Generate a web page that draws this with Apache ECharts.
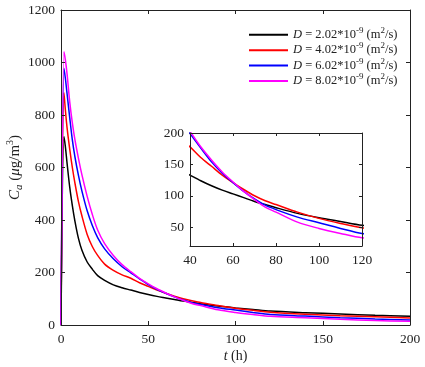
<!DOCTYPE html>
<html>
<head>
<meta charset="utf-8">
<script src="https://cdn.jsdelivr.net/npm/echarts@6/dist/echarts.min.js"></script>
<style>
    html, body { margin: 0; padding: 0; background: #fff; }
    #chart { width: 425px; height: 367px; }
</style>
</head>
<body>
<div id="chart"></div>
<script>
    // time (h) and concentration (ug/m3) for each diffusion coefficient
    var tHours = [0, 1.7, 2.5, 3.5, 5, 6.5, 8, 10, 12, 15, 18, 21, 25, 30, 35, 40, 45, 50, 55, 60, 65, 70, 75, 80, 90, 100, 110, 120, 140, 160, 180, 200];
    var cD202 = [0, 718, 680, 615, 525, 455, 395, 330, 285, 240, 212, 188, 170, 153, 142, 133, 124, 116, 109, 103, 97, 91, 86, 81, 72, 65, 59, 53, 47, 42, 37, 33];
    var cD402 = [0, 885, 820, 750, 670, 600, 540, 470, 415, 345, 298, 265, 232, 208, 191, 178, 161, 147, 133, 121, 110, 100, 92, 86, 74, 64, 56, 49, 41, 35, 31, 27];
    var cD602 = [0, 978, 940, 880, 790, 705, 640, 570, 510, 435, 378, 333, 290, 252, 222, 199, 176, 154, 136, 121, 107, 95, 85, 78, 66, 57, 48, 40, 34, 28, 23, 19];
    var cD802 = [0, 1041, 1010, 955, 850, 770, 705, 635, 572, 490, 420, 362, 310, 265, 230, 203, 178, 157, 138, 122, 107, 94, 82, 74, 58, 48, 40, 33, 28, 22, 17, 14];

    var dValues = ['2.02', '4.02', '6.02', '8.02'];
    var curves = [cD202, cD402, cD602, cD802];
    var lineColors = ['#000000', '#ff0000', '#0000ff', '#ff00ff'];

    var mainXTicks = [0, 50, 100, 150, 200];
    var mainYTicks = [0, 200, 400, 600, 800, 1000, 1200];
    var insetXTicks = [40, 60, 80, 100, 120];
    var insetYTicks = [50, 100, 150, 200];

    var FONT = '"Liberation Serif", "Times New Roman", serif';
    var INK = '#222';

    var names = dValues.map(function (d) { return 'D = ' + d + '*10^-9 (m2/s)'; });

    function pairs(ys) {
        return tHours.map(function (t, i) { return [t, ys[i]]; });
    }

    function valueAxis(grid, pos, min, max, ticks, labels, len) {
        return {
            type: 'value', gridIndex: grid, position: pos, min: min, max: max, z: 5,
            axisLine: { show: true, onZero: false, lineStyle: { color: INK, width: 1 } },
            axisTick: { show: true, inside: true, length: len, customValues: ticks, lineStyle: { color: INK } },
            axisLabel: {
                show: labels, customValues: ticks, margin: 6,
                fontFamily: FONT, fontSize: 13.5, color: INK,
                formatter: function (v) { return String(v); }
            },
            splitLine: { show: false }
        };
    }

    var xAxes = [
        valueAxis(0, 'bottom', 0, 200, mainXTicks, true, 4),
        valueAxis(0, 'top', 0, 200, mainXTicks, false, 4),
        valueAxis(1, 'bottom', 40, 120, insetXTicks, true, 3),
        valueAxis(1, 'top', 40, 120, insetXTicks, false, 3)
    ];
    var yAxes = [
        valueAxis(0, 'left', 0, 1200, mainYTicks, true, 4),
        valueAxis(0, 'right', 0, 1200, mainYTicks, false, 4),
        valueAxis(1, 'left', 20, 200, insetYTicks, true, 3),
        valueAxis(1, 'right', 20, 200, insetYTicks, false, 3)
    ];
    xAxes[0].axisLabel.margin = 7;
    xAxes[2].axisLabel.margin = 7;

    function richSet(size, lh) {
        return {
            n: { fontFamily: FONT, fontSize: size, color: INK, lineHeight: lh, verticalAlign: 'middle' },
            i: { fontFamily: FONT, fontSize: size, color: INK, fontStyle: 'italic', lineHeight: lh, verticalAlign: 'middle' },
            sup: { fontFamily: FONT, fontSize: Math.round(size * 0.68), color: INK, verticalAlign: 'top' },
            sub: { fontFamily: FONT, fontSize: Math.round(size * 0.72), color: INK, fontStyle: 'italic', verticalAlign: 'bottom' }
        };
    }

    xAxes[0].name = '{i|t}{n| (h)}';
    xAxes[0].nameLocation = 'middle';
    xAxes[0].nameGap = 22;
    xAxes[0].nameMoveOverlap = false;
    xAxes[0].nameTextStyle = { rich: richSet(14, 18) };

    yAxes[0].name = '{i|C}{sub|a}{n| (}{i|\u03bc}{n|g/m}{sup|3}{n|)}';
    yAxes[0].nameLocation = 'middle';
    yAxes[0].nameRotate = 90;
    yAxes[0].nameGap = 36;
    yAxes[0].nameMoveOverlap = false;
    yAxes[0].nameTextStyle = { rich: richSet(15, 20) };

    var series = [];
    curves.forEach(function (c, k) {
        [0, 2].forEach(function (ax) {
            series.push({
                name: names[k], type: 'line', xAxisIndex: ax, yAxisIndex: ax,
                data: pairs(c), symbol: 'none', clip: true, smooth: 0.3,
                lineStyle: { color: lineColors[k], width: 1.5 },
                itemStyle: { color: lineColors[k] }
            });
        });
    });

    var chart = echarts.init(document.getElementById('chart'));
    chart.setOption({
        animation: false,
        backgroundColor: '#fff',
        grid: [
            { left: 61, top: 10, right: 15, bottom: 42, outerBoundsMode: 'none' },
            { left: 190, top: 133, width: 172, height: 113, outerBoundsMode: 'none' }
        ],
        legend: {
            data: names, orient: 'vertical', left: 249, top: 26, padding: 0,
            icon: 'rect', itemWidth: 39, itemHeight: 2, itemGap: 0,
            textStyle: { fontFamily: FONT, fontSize: 12.5, color: INK, rich: richSet(12.5, 17.7) },
            formatter: function (name) {
                var k = names.indexOf(name);
                return '{i|D}{n| = ' + dValues[k] + '*10}{sup|-9}{n| (m}{sup|2}{n|/s)}';
            }
        },
        xAxis: xAxes,
        yAxis: yAxes,
        series: series
    });
</script>
</body>
</html>
